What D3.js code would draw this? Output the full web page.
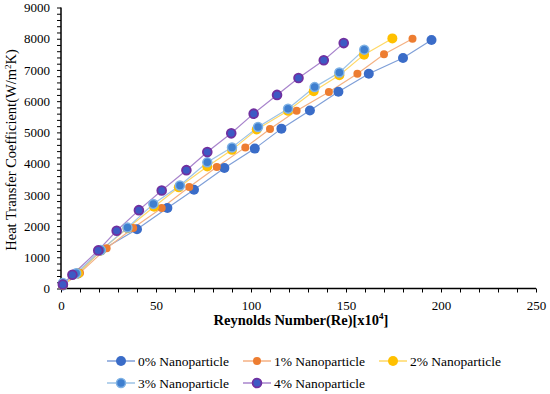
<!DOCTYPE html>
<html><head><meta charset="utf-8">
<script src="https://cdn.jsdelivr.net/npm/d3@7"></script>
<style>body{margin:0;background:#fff;} svg{display:block;} text{font-family:"Liberation Serif","Times New Roman",serif;}</style>
</head><body>
<svg id="c" width="550" height="394"></svg>
<script>
const seriesNames = ["0% Nanoparticle","1% Nanoparticle","2% Nanoparticle","3% Nanoparticle","4% Nanoparticle"];
const re0 = [1, 9, 21, 40, 56, 70, 86, 102, 116, 131, 146, 162, 180, 195];
const h0  = [100, 480, 1220, 1900, 2580, 3160, 3860, 4480, 5120, 5700, 6300, 6880, 7380, 7960];
const re1 = [1, 10, 24, 38, 53, 67.5, 82, 97, 110, 124, 141, 156, 170, 185];
const h1  = [100, 500, 1290, 1940, 2580, 3250, 3890, 4520, 5110, 5690, 6290, 6880, 7500, 8000];
const re2 = [1, 9, 21, 35, 49, 62, 77, 90, 103, 119.5, 133, 146.5, 159.5, 174.4];
const h2  = [110, 480, 1220, 1930, 2620, 3240, 3910, 4440, 5090, 5690, 6320, 6830, 7490, 8010];
const re3 = [1, 8, 21, 35, 48.6, 62.6, 77, 90, 103.7, 119.5, 133.5, 146.5, 159.6];
const h3  = [180, 490, 1230, 1950, 2710, 3300, 4040, 4520, 5170, 5760, 6450, 6920, 7650];
const re4 = [1, 6, 19.6, 29.3, 41, 53, 66, 77, 89.6, 101.4, 113.7, 125, 138.3, 148.8];
const h4  = [130, 440, 1220, 1850, 2510, 3140, 3790, 4370, 4970, 5600, 6200, 6740, 7310, 7860];
const xTicks = [0, 50, 100, 150, 200, 250];
const yTicks = [0, 1000, 2000, 3000, 4000, 5000, 6000, 7000, 8000, 9000];

const FONT = "Liberation Serif";
const styles = [
  {line:"#7f9fd8", fill:"#3a6cc8", stroke:"#3a6cc8", sw:0, r:5},
  {line:"#f4b183", fill:"#ed7d31", stroke:"#ed7d31", sw:0, r:4},
  {line:"#ffd966", fill:"#ffc000", stroke:"#ffc000", sw:0, r:5},
  {line:"#9dc3e6", fill:"#3f7fcf", stroke:"#7fb2e5", sw:1.5, r:4.5},
  {line:"#a884cc", fill:"#3d5ac4", stroke:"#7030a0", sw:1.8, r:4.4}
];
const xs=[re0,re1,re2,re3,re4], ys=[h0,h1,h2,h3,h4];
const data = seriesNames.map((n,i)=>({name:n, pts:xs[i].map((x,j)=>({x, y:ys[i][j]})), st:styles[i]}));

const svg = d3.select("#c");
const L=61, R=536, T=7.5, B=288.5;
const x = d3.scaleLinear().domain([0,250]).range([L,R]);
const y = d3.scaleLinear().domain([0,9000]).range([B,T]);

const gx = svg.append("g").attr("transform",`translate(0,${B})`);
gx.call(d3.axisBottom(x).tickValues(d3.range(0,251,10)).tickSize(4).tickFormat(""));
gx.select(".domain").remove();
gx.selectAll("line").attr("stroke","#000");
const gxl = svg.append("g").attr("transform",`translate(0,${B})`);
gxl.call(d3.axisBottom(x).tickValues(xTicks).tickSize(0).tickPadding(12).tickFormat(d3.format("d")));
gxl.attr("font-family",FONT);
gxl.select(".domain").attr("stroke","#000").attr("stroke-width",1.5).attr("d",`M${L},0H${R}`);
gxl.selectAll("text").attr("font-size",13).attr("font-family",FONT).attr("fill","#000");

const gy = svg.append("g").attr("transform",`translate(${L},0)`);
gy.call(d3.axisLeft(y).tickValues(d3.range(0,9001,200)).tickSize(4).tickFormat(""));
gy.select(".domain").remove();
gy.selectAll("line").attr("stroke","#000");
const gyl = svg.append("g").attr("transform",`translate(${L},0)`);
gyl.call(d3.axisLeft(y).tickValues(yTicks).tickSize(0).tickPadding(11).tickFormat(d3.format("d")));
gyl.attr("font-family",FONT);
gyl.select(".domain").attr("stroke","#000").attr("stroke-width",1.5).attr("d",`M0,${B}V${T}`);
gyl.selectAll("text").attr("font-size",13).attr("font-family",FONT).attr("fill","#000");

const line = d3.line().x(d=>x(d.x)).y(d=>y(d.y));
data.forEach(s=>{
  svg.append("path").attr("d",line(s.pts)).attr("fill","none").attr("stroke",s.st.line).attr("stroke-width",1.2);
});
data.forEach(s=>{
  svg.append("g").selectAll("circle").data(s.pts).join("circle")
    .attr("cx",d=>x(d.x)).attr("cy",d=>y(d.y)).attr("r",s.st.r)
    .attr("fill",s.st.fill).attr("stroke",s.st.stroke).attr("stroke-width",s.st.sw);
});

svg.append("text").attr("x",301).attr("y",325).attr("text-anchor","middle").attr("font-family",FONT)
  .attr("font-size",14.5).attr("font-weight","bold").attr("fill","#000")
  .html('Reynolds Number(Re)[x10<tspan dy="-6" font-size="9">4</tspan><tspan dy="6">]</tspan>');
svg.append("text").attr("transform","translate(16,150) rotate(-90)").attr("text-anchor","middle").attr("font-family",FONT)
  .attr("font-size",14.5).attr("fill","#000")
  .html('Heat Transfer Coefficient(W/m<tspan dy="-5" font-size="9">2</tspan><tspan dy="5">K)</tspan>');

const legPos = [[107,361],[243,361],[379,361],[107,383],[243,383]];
data.forEach((s,i)=>{
  const [lx,ly]=legPos[i];
  const g=svg.append("g");
  g.append("line").attr("x1",lx).attr("x2",lx+28).attr("y1",ly).attr("y2",ly).attr("stroke",s.st.line).attr("stroke-width",1.5);
  g.append("circle").attr("cx",lx+14).attr("cy",ly).attr("r",s.st.r).attr("fill",s.st.fill).attr("stroke",s.st.stroke).attr("stroke-width",s.st.sw);
  g.append("text").attr("x",lx+31).attr("y",ly+4.5).attr("font-family",FONT).attr("font-size",13.5).attr("fill","#000").text(s.name);
});
</script>
</body></html>
